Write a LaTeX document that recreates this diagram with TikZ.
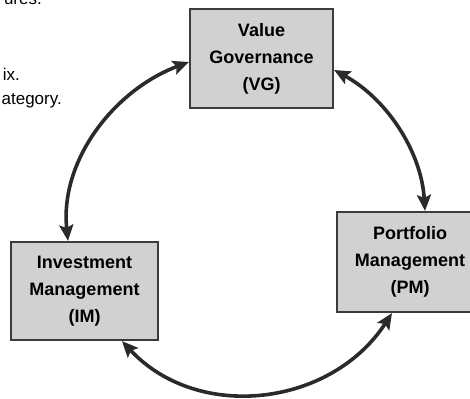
\documentclass[tikz,border=0pt]{standalone}
\usepackage{fontspec}
\setmainfont{Liberation Sans}
\usetikzlibrary{arrows.meta}
\definecolor{boxfill}{HTML}{D1D1D1}
\definecolor{boxline}{HTML}{3C3C3C}
\definecolor{linkcol}{HTML}{2A2A2A}
\begin{document}
\begin{tikzpicture}[x=1pt,y=1pt,
  box/.style={draw=boxline, line width=2.2pt, fill=boxfill, inner sep=0pt,
    align=center, font=\bfseries\fontsize{18}{27}\selectfont},
  note/.style={inner sep=0pt, anchor=base east, font=\fontsize{17}{20}\selectfont},
  link/.style={draw=linkcol, line width=3.6pt,
    >={Stealth[length=16pt,width=14pt,inset=3pt]}, <->}]
\useasboundingbox (0,0) rectangle (470,398);
\clip (0,0) rectangle (470,398);

% side notes running in from the left
\node[note] (n1) at (42,393) {ures.};
\node[note] (n2) at (20,317) {ix.};
\node[note] (n3) at (62,293) {ategory.};

% the three management areas
\node[box, minimum width=143pt, minimum height=99pt] (VG) at (261.5,339.5)
  {Value\\Governance\\(VG)};
\node[box, minimum width=147pt, minimum height=98pt] (IM) at (84.5,107)
  {Investment\\Management\\(IM)};
\node[box, minimum width=146pt, minimum height=100pt] (PM) at (410,136)
  {Portfolio\\Management\\(PM)};

% cycle of two-way links
\draw[link] ([xshift=-16.5pt]IM.north) to[out=96,in=200.6,looseness=0.95]
  ([yshift=-3.5pt]VG.west);
\draw[link] ([yshift=-11.5pt]VG.east) to[out=331.4,in=93.6,looseness=0.91]
  ([xshift=15pt]PM.north);
\draw[link] ([xshift=37.5pt]IM.south) to[out=313,in=237,looseness=1.05]
  ([xshift=-18pt]PM.south);
\end{tikzpicture}
\end{document}
